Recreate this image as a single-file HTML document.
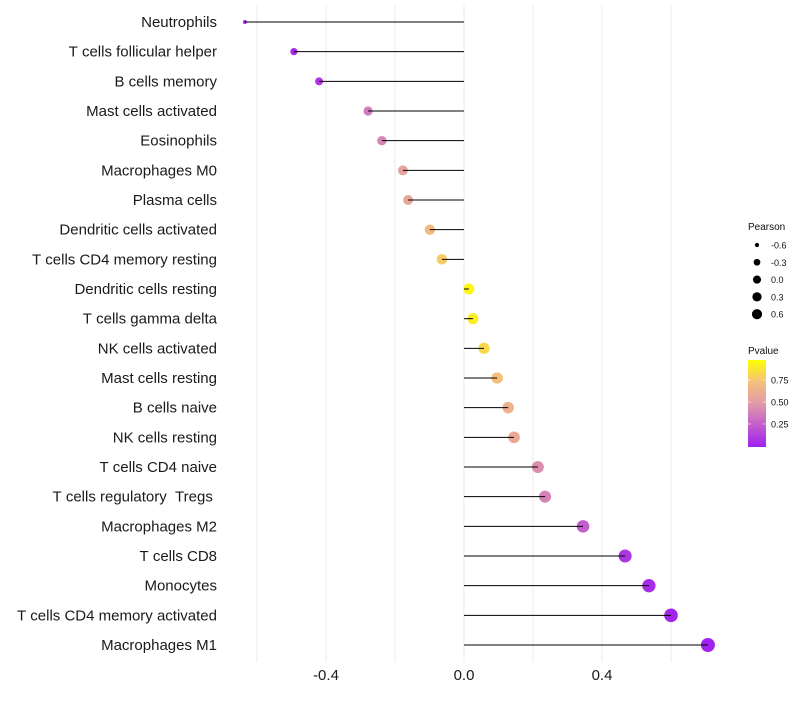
<!DOCTYPE html>
<html><head><meta charset="utf-8"><style>
body{margin:0;background:#fff;font-family:"Liberation Sans",sans-serif;}
</style></head><body>
<svg id="chart" width="800" height="700" xmlns="http://www.w3.org/2000/svg" font-family="Liberation Sans, sans-serif">
<defs><linearGradient id="pg" x1="0" y1="1" x2="0" y2="0">
<stop offset="0" stop-color="#a020f0"/><stop offset="0.5" stop-color="#e29aa8"/><stop offset="0.75" stop-color="#f5c07a"/><stop offset="1" stop-color="#ffff00"/></linearGradient></defs>
<g id="grid"></g><g id="marks"></g><g id="labels"></g><g id="legend"></g>
</svg>
<script>
const categories=["Neutrophils","T cells follicular helper","B cells memory","Mast cells activated","Eosinophils","Macrophages M0","Plasma cells","Dendritic cells activated","T cells CD4 memory resting","Dendritic cells resting","T cells gamma delta","NK cells activated","Mast cells resting","B cells naive","NK cells resting","T cells CD4 naive","T cells regulatory  Tregs ","Macrophages M2","T cells CD8","Monocytes","T cells CD4 memory activated","Macrophages M1"];
const pearson=[-0.635,-0.493,-0.42,-0.278,-0.238,-0.177,-0.162,-0.099,-0.064,0.014,0.026,0.058,0.096,0.128,0.145,0.214,0.235,0.345,0.467,0.536,0.6,0.707];
const pvalue=[0.02,0.05,0.1,0.38,0.42,0.55,0.58,0.72,0.8,0.97,0.93,0.85,0.75,0.65,0.6,0.45,0.4,0.25,0.09,0.05,0.02,0.01];
const xTicks=[-0.4,0,0.4];
const xTickLabels=["-0.4","0.0","0.4"];
const xMinor=[-0.6,-0.2,0.2,0.6];
const legendSizes=[-0.6,-0.3,0.0,0.3,0.6];
const legendSizeLabels=["-0.6","-0.3","0.0","0.3","0.6"];
const legendP=[0.25,0.5,0.75];
const legendPLabels=["0.25","0.50","0.75"];

const NS="http://www.w3.org/2000/svg";
const X=v=>464+v*345;
const Y=i=>22+i*29.667;
const R=v=>2+5*Math.sqrt(Math.max(0,(v+0.635)/1.342));
function lerp(a,b,t){return a.map((x,i)=>Math.round(x+(b[i]-x)*t));}
const stops=[[0,[160,32,240]],[0.5,[226,154,168]],[0.75,[245,192,122]],[1,[255,255,0]]];
function col(p){for(let i=1;i<stops.length;i++){if(p<=stops[i][0]){const t=(p-stops[i-1][0])/(stops[i][0]-stops[i-1][0]);const c=lerp(stops[i-1][1],stops[i][1],t);return `rgb(${c})`;}}return "rgb(255,255,0)";}
function mk(tag,attrs,parent,text){const e=document.createElementNS(NS,tag);for(const k in attrs)e.setAttribute(k,attrs[k]);if(text!==undefined)e.textContent=text;parent.appendChild(e);return e;}
const grid=document.getElementById('grid'),marks=document.getElementById('marks'),labels=document.getElementById('labels'),legend=document.getElementById('legend');
xMinor.concat(xTicks).forEach(v=>{const l=mk('line',{x1:X(v),x2:X(v),y1:5,y2:662,stroke:'#ebebeb','stroke-width':1},grid);

});
xTicks.forEach((v,i)=>{const t=mk('text',{x:X(v),y:680,'font-size':15,'text-anchor':'middle',fill:'#1a1a1a'},labels,xTickLabels[i]);

});
categories.forEach((c,i)=>{
const t=mk('text',{x:217,y:Y(i)+5,'font-size':15,'text-anchor':'end',fill:'#1a1a1a'},labels,c.replace(/ /g,'\u00a0'));


const d=mk('circle',{cx:X(pearson[i]),cy:Y(i),r:R(pearson[i]),fill:col(pvalue[i])},marks);


const l=mk('line',{x1:X(0),x2:X(pearson[i]),y1:Y(i),y2:Y(i),stroke:'#000','stroke-width':1},marks);


});
let t=mk('text',{x:748,y:230,'font-size':10,fill:'#111'},legend,'Pearson');


legendSizes.forEach((v,i)=>{const y=245+i*17.3;
const c=mk('circle',{cx:757,cy:y,r:R(v)*0.75,fill:'#000'},legend);


const tt=mk('text',{x:771,y:y+3.5,'font-size':9,fill:'#111'},legend,legendSizeLabels[i]);

});
t=mk('text',{x:748,y:354,'font-size':10,fill:'#111'},legend,'Pvalue');


const bar=mk('rect',{x:748,y:360,width:18,height:87,fill:'url(#pg)'},legend);


legendP.forEach((p,i)=>{const y=446-p*88;
mk('line',{x1:748,x2:751,y1:y,y2:y,stroke:'#fff','stroke-opacity':0.6},legend);
mk('line',{x1:763,x2:766,y1:y,y2:y,stroke:'#fff','stroke-opacity':0.6},legend);
const tt=mk('text',{x:771,y:y+3.5,'font-size':9,fill:'#111'},legend,legendPLabels[i]);

});
</script>
</body></html>
